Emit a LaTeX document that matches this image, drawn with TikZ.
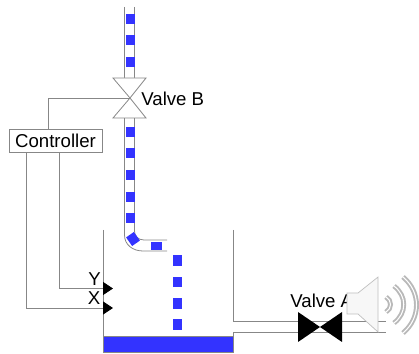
\documentclass[tikz,border=0pt]{standalone}
\usepackage{xcolor}
\usepackage{fontspec}
\setmainfont{Liberation Sans}
\usepackage{tikz}
\usetikzlibrary{arrows.meta}
\definecolor{fluid}{RGB}{51,51,255}
\definecolor{wire}{RGB}{135,135,135}
\tikzstyle{block} = [rectangle, draw=wire, line width=0.45pt, fill=white, text=black, font=\fontsize{10.6}{12}\selectfont, inner sep=0pt, minimum width=1.86cm, minimum height=0.46cm]
\tikzstyle{label} = [inner sep=0pt, font=\fontsize{10.6}{12}\selectfont]
\tikzstyle{line} = [draw=wire, line width=0.45pt]
\tikzstyle{sensor} = [draw=wire, line width=0.45pt, -{Triangle[length=0.2cm,width=0.26cm,color=black]}]
\tikzstyle{drop} = [rectangle, fill=fluid, draw=none, inner sep=0pt, minimum width=0.18cm, minimum height=0.21cm]
\tikzstyle{wave} = [draw=gray!55, line width=1.1pt, double=white, double distance=0.6pt]

\begin{document}
\begin{tikzpicture}[x=0.02cm,y=-0.02cm]
\useasboundingbox (0,0) rectangle (419,354);
% upper pipe
\path [line] (124.5,7) -- (124.5,78);
\path [line] (134.5,7) -- (134.5,78);
\node [drop] (drop-a) at (130,19) {};
\node [drop] (drop-b) at (130,40) {};
\node [drop] (drop-c) at (130,62) {};
% lower pipe with bend
\path [line] (124.5,118) -- (124.5,235) .. controls (124.5,245) and (133,251) .. (143,251) -- (167,251);
\path [line] (134.5,118) -- (134.5,231) .. controls (134.5,236) and (138,240) .. (144,240) -- (167,240);
\node [drop] (drop-d) at (130,132) {};
\node [drop] (drop-e) at (130,153) {};
\node [drop] (drop-f) at (130,175) {};
\node [drop] (drop-g) at (130,197) {};
\node [drop] (drop-h) at (130,218) {};
\node [drop, rotate=35, minimum width=0.19cm] (drop-i) at (133,239) {};
\node [drop, minimum width=0.22cm, minimum height=0.16cm] (drop-j) at (156.5,246) {};
% falling fluid
\node [drop] (drop-k) at (177.5,260.5) {};
\node [drop] (drop-l) at (177.5,282) {};
\node [drop] (drop-m) at (177.5,303.5) {};
\node [drop] (drop-n) at (177.5,324.5) {};
% tank
\fill [fluid] (103,336) rectangle (233,352);
\path [line] (103,230) -- (103,352) -- (233,352) -- (233,336);
\path [line] (103,336) -- (233,336);
\path [line] (233,230) -- (233,321) -- (386,321);
\path [line] (233,336) -- (233,332) -- (386,332);
% valve B
\coordinate (valve-b) at (130,98);
\path [line, fill=white] (113,78) -- (146,78) -- (valve-b) -- (113,118) -- (146,118) -- (valve-b) -- cycle;
\node [label, anchor=west] (valve-b-text) at (141,99) {Valve B};
% controller
\node [block] (controller) at (55.5,140.5) {Controller};
\path [line] (valve-b) -| (controller.north -| 48,0);
\coordinate (sensor-y) at (113,288.5);
\coordinate (sensor-x) at (113,308);
\path [sensor] (controller.south -| 59,0) |- (sensor-y);
\path [sensor] (controller.south -| 26,0) |- (sensor-x);
\node [label] (y-text) at (94.5,279.5) {Y};
\node [label] (x-text) at (94,298.5) {X};
% valve A
\coordinate (valve-a) at (320,327);
\fill [black] (298,312) -- (valve-a) -- (342,312) -- (342,342) -- (valve-a) -- (298,342) -- cycle;
\node [label, anchor=west] (valve-a-text) at (290,301) {Valve A};
% speaker
\path [draw=gray!50, line width=0.4pt, fill=gray!6] (347,293) -- (358,293) -- (378,277) -- (378,332) -- (358,314) -- (347,314) -- cycle;
\path [wave] (386,297) .. controls (392,300) and (392,309) .. (386,312);
\path [wave] (394,286) .. controls (407,296) and (407,313) .. (394,323);
\path [wave] (403,277) .. controls (421,292) and (421,318) .. (403,333);
\end{tikzpicture}
\end{document}
